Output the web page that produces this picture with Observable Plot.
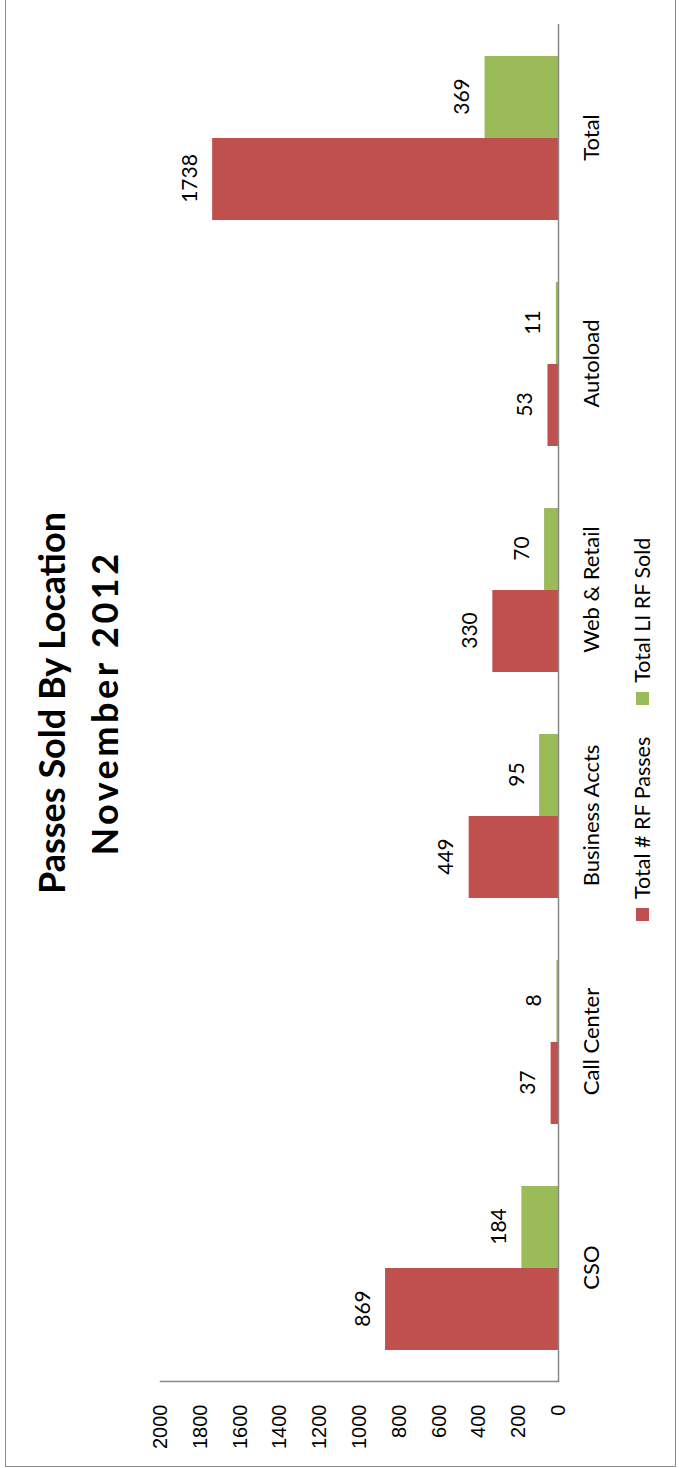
<!DOCTYPE html>
<html>
<head>
<meta charset="utf-8">
<script src="https://cdn.jsdelivr.net/npm/d3@7"></script>
<script src="https://cdn.jsdelivr.net/npm/@observablehq/plot@0.6"></script>
<style>
  html, body { margin: 0; padding: 0; background: #fff; overflow: hidden; }
  body { width: 679px; height: 1468px; position: relative; }
  #chart {
    position: absolute; left: 0; top: 0; width: 1468px; height: 679px;
    transform-origin: 0 0; transform: translate(0px, 1468px) rotate(-90deg);
    font-family: Lato, "Open Sans", sans-serif; color: #000;
  }
  #border {
    position: absolute; left: 1px; top: 5px; width: 1520px; height: 671px;
    border: 1.5px solid #8c8c8c; box-sizing: border-box;
  }
  #title {
    position: absolute; left: 86px; width: 1358px; top: 25px;
    text-align: center; font-weight: bold; font-size: 36px; line-height: 53px;
  }
  #title .l2 { letter-spacing: 3.5px; }
  #plot { position: absolute; left: 0; top: 0; }
  #legend {
    position: absolute; left: 547px; top: 630px; display: flex; align-items: center;
    font-size: 21.5px; line-height: 24px; white-space: nowrap;
  }
  #legend .sw { display: inline-block; width: 13px; height: 13px; margin-right: 9px; }
  #legend .item { display: flex; align-items: center; }
  svg g[aria-label="y-axis tick label"] text { font-family: "Liberation Sans", Arial, sans-serif; }
</style>
</head>
<body>
<div id="chart">
  <div id="border"></div>
  <div id="title">Passes Sold By Location<br><span class="l2">November 2012</span></div>
  <div id="plot"></div>
  <div id="legend"></div>
</div>
<script>
const categories = ["CSO", "Call Center", "Business Accts", "Web & Retail", "Autoload", "Total"];
const rfPasses = [869, 37, 449, 330, 53, 1738];
const liRfSold = [184, 8, 95, 70, 11, 369];
const seriesNames = ["Total # RF Passes", "Total LI RF Sold"];
const seriesColors = ["#C0504D", "#9BBB59"];
const yTicks = [0, 200, 400, 600, 800, 1000, 1200, 1400, 1600, 1800, 2000];

const rfData = categories.map((c, i) => ({category: c, value: rfPasses[i]}));
const liData = categories.map((c, i) => ({category: c, value: liRfSold[i]}));

const chart = Plot.plot({
  width: 1468,
  height: 679,
  marginTop: 160,
  marginBottom: 121,
  marginLeft: 86,
  marginRight: 24,
  style: {fontFamily: "Lato, 'Open Sans', sans-serif", background: "transparent", color: "#000", overflow: "visible"},
  x: {domain: categories, paddingInner: 0.275, paddingOuter: 0.1375, axis: null},
  y: {domain: [0, 2000], axis: null},
  marks: [
    Plot.barY(rfData, {x: "category", y: "value", fill: seriesColors[0], insetRight: 82}),
    Plot.barY(liData, {x: "category", y: "value", fill: seriesColors[1], insetLeft: 82}),
    Plot.text(rfData, {x: "category", y: "value", text: d => String(d.value), dx: -41, dy: -16, lineAnchor: "bottom", fontSize: 21, fill: "#000"}),
    Plot.text(liData, {x: "category", y: "value", text: d => String(d.value), dx: 41, dy: -16, lineAnchor: "bottom", fontSize: 21, fill: "#000"}),
    Plot.axisX({tickSize: 0, tickPadding: 25, fontSize: 22, label: null}),
    Plot.axisY({ticks: yTicks, tickSize: 0, tickPadding: 23, fontSize: 20, tickFormat: d => String(d), label: null}),
    Plot.ruleY([0], {stroke: "#868686", strokeWidth: 1.5}),
    Plot.frame({anchor: "left", stroke: "#868686", strokeWidth: 1.5})
  ]
});
document.getElementById("plot").appendChild(chart);

const legend = document.getElementById("legend");
seriesNames.forEach((name, i) => {
  const item = document.createElement("div");
  item.className = "item";
  item.style.marginRight = i === 0 ? "32px" : "0";
  const sw = document.createElement("span");
  sw.className = "sw";
  sw.style.background = seriesColors[i];
  item.appendChild(sw);
  item.appendChild(document.createTextNode(name));
  legend.appendChild(item);
});
</script>
</body>
</html>
